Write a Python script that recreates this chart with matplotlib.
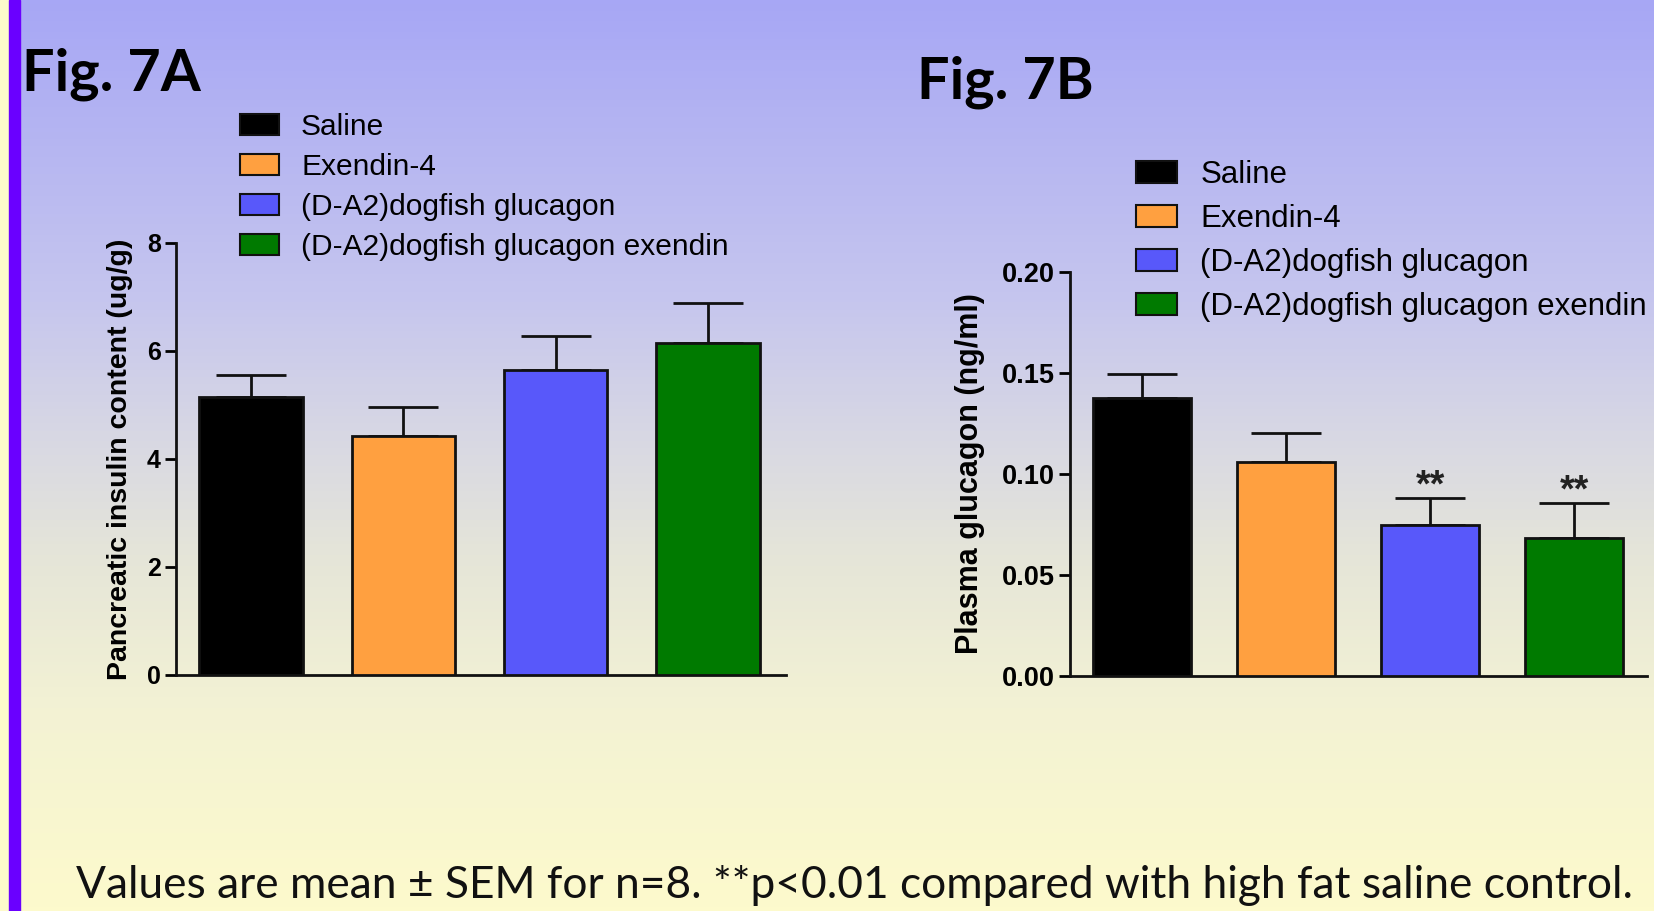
import numpy as np
import matplotlib
matplotlib.use("Agg")
import matplotlib.pyplot as plt
from matplotlib.colors import LinearSegmentedColormap
from matplotlib.patches import Patch, Rectangle

# data
groups = ["Saline", "Exendin-4", "(D-A2)dogfish glucagon", "(D-A2)dogfish glucagon exendin"]
colors = ["#000000", "#ffa040", "#5858fa", "#007a00"]

insulin_mean = [5.15, 4.42, 5.65, 6.14]
insulin_sem = [0.40, 0.54, 0.63, 0.74]

glucagon_mean = [0.1377, 0.106, 0.0748, 0.0685]
glucagon_sem = [0.0117, 0.0145, 0.0135, 0.0172]
glucagon_sig = ["", "", "**", "**"]

insulin_ticks = [0, 2, 4, 6, 8]
glucagon_ticks = [0.00, 0.05, 0.10, 0.15, 0.20]
glucagon_ticklabels = ["0.00", "0.05", "0.10", "0.15", "0.20"]

footnote = "Values are mean \u00b1 SEM for n=8. **p<0.01 compared with high fat saline control."

W, H = 1654, 911
fig = plt.figure(figsize=(W / 100, H / 100), dpi=100)

# background gradient
bg = fig.add_axes([0, 0, 1, 1], zorder=-10)
cmap = LinearSegmentedColormap.from_list("bg", [
    (0.00, "#a7a7f5"),
    (0.33, "#c6c6ee"),
    (0.50, "#dadae2"),
    (0.62, "#e6e6d8"),
    (0.78, "#f3f2d4"),
    (1.00, "#fdfacc"),
])
bg.imshow(np.linspace(0, 1, 256)[:, None], aspect="auto", cmap=cmap, extent=[0, 1, 0, 1])
bg.add_patch(Rectangle((0, 0), 9 / W, 1, color="#fdfacb", transform=bg.transAxes))
bg.add_patch(Rectangle((9 / W, 0), 11 / W, 1, color="#6a00ff", transform=bg.transAxes))
bg.set_xlim(0, 1)
bg.set_ylim(0, 1)
bg.axis("off")

bold = dict(family="Liberation Sans", weight="bold")


def style_axis(ax):
    ax.set_facecolor("none")
    for s in ["top", "right"]:
        ax.spines[s].set_visible(False)
    for s in ["left", "bottom"]:
        ax.spines[s].set_linewidth(2)
        ax.spines[s].set_color("#111111")
    ax.tick_params(axis="y", length=8, width=2, direction="out", pad=3)
    ax.set_xticks([])


def draw_bars(ax, means, sems, width):
    x = np.arange(len(means))
    ax.bar(x, means, width=width, color=colors, edgecolor="#111111", linewidth=2, zorder=3)
    ax.errorbar(x, means, yerr=[np.zeros(len(sems)), sems], fmt="none",
                ecolor="#111111", elinewidth=2, capsize=25, capthick=2, zorder=2)
    return x


# Fig 7A
ax1 = fig.add_axes([176 / W, 1 - 675 / H, 610 / W, 432 / H])
style_axis(ax1)
draw_bars(ax1, insulin_mean, insulin_sem, 0.68)
ax1.set_xlim(-0.493, 3.513)
ax1.set_ylim(0, 8)
ax1.set_yticks(insulin_ticks)
ax1.set_yticklabels([str(t) for t in insulin_ticks], fontsize=18, **bold)
ax1.set_ylabel("Pancreatic insulin content (ug/g)", fontsize=20.5, labelpad=10, **bold)

# Fig 7B
ax2 = fig.add_axes([1070 / W, 1 - 676 / H, 577 / W, 404 / H])
style_axis(ax2)
x2 = draw_bars(ax2, glucagon_mean, glucagon_sem, 0.68)
ax2.set_xlim(-0.5, 3.507)
ax2.set_ylim(0, 0.20)
ax2.set_yticks(glucagon_ticks)
ax2.set_yticklabels(glucagon_ticklabels, fontsize=19.5, **bold)
ax2.set_ylabel("Plasma glucagon (ng/ml)", fontsize=22, labelpad=12, **bold)
for xi, m, s, lab in zip(x2, glucagon_mean, glucagon_sem, glucagon_sig):
    if lab:
        ax2.text(xi, m + s + 0.0005, lab, ha="center", va="baseline", fontsize=27,
                 color="#222222", **bold)

# titles
fig.text(22 / W, 1 - 74 / H, "Fig. 7A", fontsize=41.5, fontweight="bold",
         family="Lato", va="center", ha="left")
fig.text(917 / W, 1 - 82 / H, "Fig. 7B", fontsize=41.5, fontweight="bold",
         family="Lato", va="center", ha="left")

# legends
handles = [Patch(facecolor=c, edgecolor="#111111", linewidth=1.5) for c in colors]
fig.legend(handles, groups, loc="upper left", bbox_to_anchor=(213 / W, 1 - 86 / H),
           frameon=False, prop=dict(family="Liberation Sans", size=21.5),
           handlelength=1.3, handleheight=0.7, handletextpad=0.75, labelspacing=0.4)
fig.legend(handles, groups, loc="upper left", bbox_to_anchor=(1108 / W, 1 - 132 / H),
           frameon=False, prop=dict(family="Liberation Sans", size=22.5),
           handlelength=1.3, handleheight=0.7, handletextpad=0.75, labelspacing=0.45)

# footnote
fig.text(76 / W, 1 - 886 / H, footnote, fontsize=31.9, family="Lato",
         va="center", ha="left", color="#111111")

fig.savefig("out.png", dpi=100)
